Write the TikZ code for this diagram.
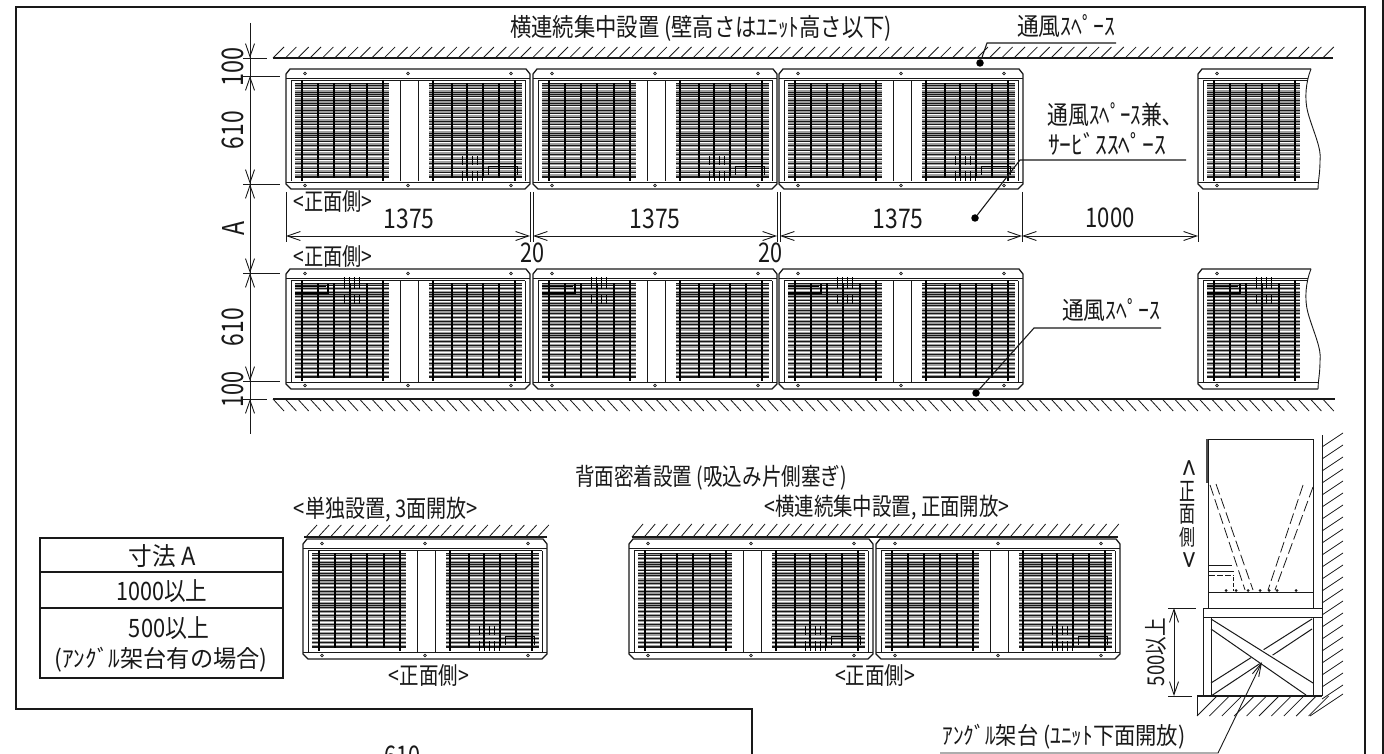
\documentclass[tikz,border=0pt]{standalone}
\usepackage{graphicx}
\usepackage{fontspec}
\setmainfont{Noto Sans CJK JP}
\usetikzlibrary{arrows.meta}
\definecolor{ink}{gray}{0.1}
\newcommand\tx[3]{\resizebox*{#1pt}{#2pt}{#3}}
\tikzset{
  lab/.style={inner sep=0pt,outer sep=0pt,text=ink},
  thinln/.style={line width=0.8pt,draw=ink},
  medln/.style={line width=1.2pt,draw=ink},
  dimln/.style={line width=0.9pt,draw=ink,{Straight Barb[length=13pt,width=9pt]}-{Straight Barb[length=13pt,width=9pt]}},
  extln/.style={line width=0.9pt,draw=ink},
  hatchln/.style={line width=0.8pt,draw=ink},
  leaderln/.style={line width=1.1pt,draw=ink},
  spotdot/.style={circle,fill=black,inner sep=0pt,minimum size=7.5pt},
  dashln/.style={line width=0.8pt,draw=ink,dash pattern=on 11pt off 4pt},
}
\newcommand\grille[2]{%
  \fill[gray!75] (#1,14) rectangle (#2,109);
  \foreach \yy in {17,21,29,32,38,46,50,57,62,70,74,79,83,88,92,97,101,105}
    \draw[white,line width=1pt] (#1,\yy)--(#2,\yy);
  \foreach \yy in {14,16,19,23,25,27,31,34,36,41,44,48,52,55,59,64,66,68,72,76,81,85,90,94,99,103,107,108.5}
    \draw[black!90,line width=.7pt] (#1,\yy)--(#2,\yy);
}
\newcommand\bars[2]{%
  \foreach \xx in {#1} \draw[black,line width=1.4pt] (\xx,14)--(\xx,109);
  \foreach \xx in {#2} \draw[black,line width=1.8pt] (\xx,11)--(\xx,112);
}
\newcommand\screws[1]{%
  \foreach \xx in {#1} {
    \draw[line width=.7pt,draw=ink,fill=white] (\xx,4.5) circle (1.4pt);
    \draw[line width=.7pt,draw=ink,fill=white] (\xx,116.5) circle (1.4pt);
  }
}
\newcommand\casing[1]{%
  \draw[line width=1.3pt,draw=ink,fill=white] (0,5)--(4,0)--(#1-4,0)--(#1,5)--(#1,115)--(#1-5,120)--(5,120)--(0,115)--cycle;
  \draw[line width=1.3pt,draw=ink] (0,9.5)--(#1,9.5);
  \draw[line width=.8pt,draw=ink] (5,11.5)--(#1-5,11.5);
  \draw[line width=.8pt,draw=ink] (5,11.5)--(5,112.5) (#1-5,11.5)--(#1-5,112.5);
  \draw[line width=1.5pt,draw=ink] (0,113.5)--(#1,113.5);
}
\newcommand\detailbr{%
  \draw[black,line width=.9pt] (202,106)--(202,97)--(231,97)--(231,106);
  \foreach \xx in {176,181,186,191,196} \draw[black,line width=.7pt] (\xx,87)--(\xx,96) (\xx,102)--(\xx,112);
}
\newcommand\detailtl{%
  \draw[black,line width=1.2pt] (9,24)--(42,24)--(42,15);
  \draw[black,line width=.7pt] (9,17)--(40,17);
  \foreach \xx in {58,63,68,73} \draw[black,line width=.7pt] (\xx,8)--(\xx,20) (\xx,26)--(\xx,35);
}
% full unit: #1,#2 origin; #3 detail
\newcommand\acunit[3]{%
  \begin{scope}[shift={(#1,#2)}]
    \casing{244}
    \grille{9}{103}
    \grille{143}{236}
    \draw[line width=.8pt,draw=ink] (114,11.5)--(114,112.5) (132,11.5)--(132,112.5);
    \bars{32,48,64,81}{16,97}
    \bars{166,181,197,213}{147,229}
    \screws{19,122,225}
    #3
  \end{scope}
}
% cut unit at the right
\newcommand\acpart[3]{%
  \begin{scope}[shift={(#1,#2)}]
    \begin{scope}
      \clip (-2,-2)--(113,-2)--(113,0) .. controls (108,12) and (106,30) .. (110,44) .. controls (115,62) and (124,80) .. (122,92) .. controls (122,105) and (120,112) .. (120,122)--(-2,122)--cycle;
      \casing{244}
      \grille{9}{102}
      \bars{32,48,64,81}{16,97}
      \screws{19}
      #3
    \end{scope}
    \draw[line width=.9pt,draw=ink] (113,0) .. controls (108,12) and (106,30) .. (110,44) .. controls (115,62) and (124,80) .. (122,92) .. controls (122,105) and (120,112) .. (120,120);
  \end{scope}
}
\begin{document}
\begin{tikzpicture}[x=1pt,y=-1pt]
\useasboundingbox (0,0) rectangle (1384,754);
\clip (0,0) rectangle (1384,754);
\fill[white] (0,0) rectangle (1384,754);
% frame
\draw[line width=1.3pt,draw=ink] (752,754)--(752,709)--(16,709)--(16,7)--(1365,7)--(1365,754);
\draw[line width=2.5pt,draw=ink] (1383,0)--(1383,754);
% walls
\draw[medln] (273,58)--(1333,58);
\foreach \i in {0,...,85} \draw[hatchln] ({273+\i*12.35},58)--++(11,-11);
\draw[medln] (273,399)--(1335,399);
\foreach \i in {0,...,85} \draw[hatchln] ({273+\i*12.35},399)--++(11,12);
\draw[medln] (304,537)--(547,537);
\foreach \i in {0,...,19} \draw[hatchln] ({306+\i*12.2},537)--++(11,-12);
\draw[medln] (632,537)--(1118,537);
\foreach \i in {0,...,39} \draw[hatchln] ({632+\i*12.2},537)--++(11,-13);
% units
\foreach \ux in {286,533,779} { \acunit{\ux}{69}{\detailbr} }
\foreach \ux in {286,533,779} { \acunit{\ux}{269}{\detailtl} }
\acpart{1198}{69}{}
\acpart{1198}{269}{\detailtl}
\acunit{303}{539}{\detailbr}
\acunit{629}{539}{\detailbr}
\acunit{876}{539}{\detailbr}
% vertical dimensions
\foreach \yy in {58,76,184,273,381,399}
  \draw[extln] (243,\yy)--({\yy==58||\yy==399?267:280},\yy);
\draw[line width=.9pt,draw=ink] (250,23)--(250,434);
\draw[dimln,{Straight Barb[length=13pt,width=9pt]}-] (250,58)--(250,44);
\draw[dimln] (250,76)--(250,184);
\draw[dimln] (250,184)--(250,273);
\draw[dimln] (250,273)--(250,381);
\draw[dimln,{Straight Barb[length=13pt,width=9pt]}-] (250,399)--(250,420);
% horizontal dimensions
\foreach \xx in {286,530,533,777,780,1022,1198}
  \draw[extln] (\xx,192)--(\xx,242);
\draw[dimln] (286,236)--(530,236);
\draw[dimln] (533,236)--(777,236);
\draw[dimln] (780,236)--(1022,236);
\draw[dimln] (1022,236)--(1198,236);
% labels: dimensions
\node[lab,rotate=90] (d100a) at (233,67) {\tx{39}{22}{100}};
\node[lab,rotate=90] (d610a) at (233,130) {\tx{38}{22}{610}};
\node[lab,rotate=90] (dA) at (233,228) {\tx{14}{22}{A}};
\node[lab,rotate=90] (d610b) at (233,327) {\tx{38}{22}{610}};
\node[lab,rotate=90] (d100b) at (233,389) {\tx{36}{22}{100}};
\node[lab] (d1375a) at (409,219) {\tx{51}{20}{1375}};
\node[lab] (d1375b) at (655,219) {\tx{51}{20}{1375}};
\node[lab] (d1375c) at (898,219) {\tx{51}{20}{1375}};
\node[lab] (d1000) at (1110,218) {\tx{49}{20}{1000}};
\node[lab] (d20a) at (532,253) {\tx{24}{20}{20}};
\node[lab] (d20b) at (770,253) {\tx{24}{20}{20}};
\node[lab] (f1) at (333,201) {\tx{79}{22}{<正面側>}};
\node[lab] (f2) at (333,256) {\tx{79}{22}{<正面側>}};
% labels: main
\node[lab] (title) at (701,28) {\tx{382}{26}{横連続集中設置 (壁高さはﾕﾆｯﾄ高さ以下)}};
\node[lab] (vs1) at (1066,26) {\tx{98}{23}{通風ｽﾍﾟｰｽ}};
\node[lab] (vs2a) at (1110,115) {\tx{125}{24}{通風ｽﾍﾟｰｽ兼､}};
\node[lab] (vs2b) at (1107,144) {\tx{118}{23}{ｻｰﾋﾞｽｽﾍﾟｰｽ}};
\node[lab] (vs3) at (1111,310) {\tx{98}{23}{通風ｽﾍﾟｰｽ}};
% leaders
\coordinate (l1a) at (1116,43); \coordinate (l1b) at (987,43);
\node[spotdot] (s1) at (980,63) {};
\draw[leaderln] (l1a)--(l1b)--(s1);
\coordinate (l2a) at (1186,160); \coordinate (l2b) at (1020,160);
\node[spotdot] (s2) at (975,218) {};
\draw[leaderln] (l2a)--(l2b)--(s2);
\coordinate (l3a) at (1161,328); \coordinate (l3b) at (1034,328);
\node[spotdot] (s3) at (976,393) {};
\draw[leaderln] (l3a)--(l3b)--(s3);
% lower titles
\node[lab] (t2) at (711,478) {\tx{272}{25}{背面密着設置 (吸込み片側塞ぎ)}};
\node[lab] (t3) at (386,510) {\tx{184}{25}{<単独設置, 3面開放>}};
\node[lab] (t4) at (887,508) {\tx{245}{25}{<横連続集中設置, 正面開放>}};
\node[lab] (f3) at (429,675) {\tx{80}{22}{<正面側>}};
\node[lab] (f4) at (875,675) {\tx{80}{22}{<正面側>}};
% table
\draw[line width=1.2pt,draw=ink] (40,538) rectangle (283,678);
\draw[line width=1.2pt,draw=ink] (40,572)--(283,572) (40,608)--(283,608);
\node[lab] (a1) at (162,556) {\tx{67}{23}{寸法 A}};
\node[lab] (a2) at (162,591) {\tx{91}{23}{1000以上}};
\node[lab] (a3) at (169,628) {\tx{80}{23}{500以上}};
\node[lab] (a4) at (161,660) {\tx{213}{25}{(ｱﾝｸﾞﾙ架台有の場合)}};
% side view
\draw[line width=1pt,draw=ink] (1208,608)--(1208,439)--(1313,439)--(1313,608);
\fill[gray!60!black] (1205.5,439) rectangle (1208,483);
\draw[line width=1pt,draw=ink] (1208,592)--(1313,592);
\draw[dashln] (1210,485)--(1245,590);
\draw[dashln] (1216,484)--(1253,590);
\draw[dashln] (1313,487)--(1275,590);
\draw[dashln] (1303,485)--(1268,590);
\draw[line width=.8pt,draw=ink] (1209,565)--(1232,565) (1209,571)--(1234,571);
\draw[dashln,dash pattern=on 6pt off 2pt] (1209,575)--(1234,575);
\draw[dashln,dash pattern=on 4pt off 2pt] (1233,577)--(1233,591);
\foreach \xx in {1226,1236,1248,1260,1269,1277,1296} \fill[ink] (\xx,590.5) circle (1.5pt);
\draw[line width=1pt,draw=ink] (1203,608) rectangle (1322,617);
\draw[line width=1pt,draw=ink] (1203,617)--(1203,696) (1211,617)--(1211,696) (1313,617)--(1313,696);
\draw[line width=1pt,draw=ink] (1312,619)--(1211,683) (1312,629)--(1211,696);
\fill[white] (1212,618)--(1213,618)--(1312,680)--(1312,695)--(1305,695)--(1212,630)--cycle;
\draw[line width=1pt,draw=ink] (1211,619)--(1313,683) (1211,629)--(1306,695);
\draw[line width=1pt,draw=ink] (1322,435)--(1322,696);
\foreach \i in {0,...,21} \draw[hatchln] (1322,{447+\i*12})--++(21,-14);
\draw[medln] (1197,696)--(1322,696);
\foreach \i in {0,...,9} \draw[hatchln] ({1197+\i*12.4},716)--++(20,-20);
\draw[hatchln] (1197,696)--(1197,716);
\draw[line width=.8pt,draw=ink] (1310,716)--(1343,694);
% side view dimension
\draw[extln] (1168,608)--(1196,608) (1168,696)--(1192,696);
\draw[dimln] (1174,608)--(1174,696);
\node[lab,rotate=90] (d500) at (1156,652) {\tx{68}{21}{500以上}};
\node[lab] (sv1) at (1187,468) {\rotatebox{-90}{\tx{17}{16}{<}}};
\node[lab] (sv2) at (1187,491) {\tx{16}{20}{正}};
\node[lab] (sv3) at (1187,514) {\tx{16}{20}{面}};
\node[lab] (sv4) at (1187,537) {\tx{16}{20}{側}};
\node[lab] (sv5) at (1187,560) {\rotatebox{-90}{\tx{17}{16}{>}}};
% angle stand label
\node[lab] (ang) at (1064,737) {\tx{243}{25}{ｱﾝｸﾞﾙ架台 (ﾕﾆｯﾄ下面開放)}};
\coordinate (an0) at (940,753); \coordinate (an1) at (1218,753); \coordinate (an2) at (1262,662);
\draw[line width=.9pt,draw=ink,-{Straight Barb[length=13pt,width=7pt]}] (an0)--(an1)--(an2);
% cut-off dimension at the sheet bottom
\node[lab] (d610c) at (402,756) {\tx{36}{20}{610}};
\end{tikzpicture}
\end{document}
